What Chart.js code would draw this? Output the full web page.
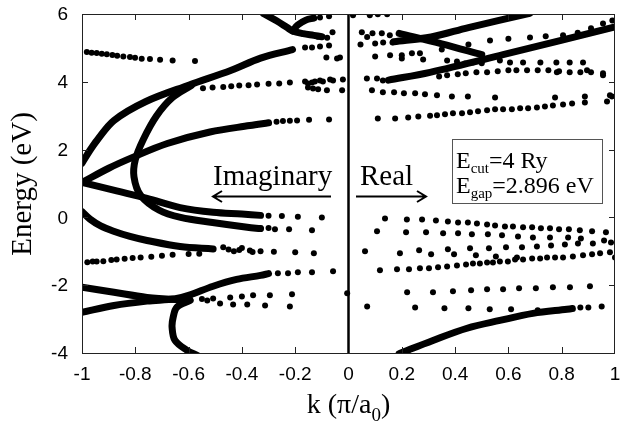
<!DOCTYPE html>
<html>
<head>
<meta charset="utf-8">
<script src="https://cdn.jsdelivr.net/npm/chart.js@4.4.1/dist/chart.umd.min.js"></script>
<style>
  html, body { margin: 0; padding: 0; background: #fff; }
  #wrap { width: 621px; height: 427px; position: relative; }
</style>
</head>
<body>
<div id="wrap"><canvas id="myChart"></canvas></div>
<script>
// ---- axes ----
const kTicks = [-1, -0.8, -0.6, -0.4, -0.2, 0, 0.2, 0.4, 0.6, 0.8, 1];
const eTicks = [-4, -2, 0, 2, 4, 6];

// ---- imaginary side (k < 0): thick continuous bands ----
const imagLineB = [[-1,1.6],[-0.97,1.98],[-0.944,2.27],[-0.88,2.86],[-0.76,3.42],[-0.6,3.9],[-0.44,4.34],[-0.33,4.7],[-0.21,4.95]];
const imagLineC = [[-0.59,3.89],[-0.66,3.54],[-0.72,3.0],[-0.77,2.3],[-0.8,1.7],[-0.805,1.2],[-0.78,0.65],[-0.71,0.21],[-0.63,0.0],[-0.51,-0.15],[-0.38,-0.29],[-0.33,-0.33]];
const imagLineD = [[-1,1.03],[-0.87,0.78],[-0.756,0.56],[-0.632,0.29],[-0.508,0.15],[-0.4,0.1],[-0.33,0.06]];
const imagLineE = [[-1,1.03],[-0.9,1.45],[-0.81,1.77],[-0.68,2.18],[-0.52,2.52],[-0.37,2.71],[-0.3,2.79]];
const imagLineF = [[-1,0.17],[-0.97,-0.05],[-0.93,-0.25],[-0.884,-0.4],[-0.82,-0.56],[-0.756,-0.68],[-0.632,-0.86],[-0.508,-0.93]];
const imagLineH1 = [[-1,-2.06],[-0.88,-2.21],[-0.756,-2.36],[-0.65,-2.42],[-0.6,-2.42]];
const imagLineH2 = [[-1,-2.8],[-0.88,-2.6],[-0.756,-2.47],[-0.65,-2.4],[-0.6,-2.3],[-0.508,-2.03],[-0.42,-1.83],[-0.33,-1.71],[-0.3,-1.66]];
const imagLineJ = [[-0.594,-2.45],[-0.644,-2.65],[-0.658,-2.95],[-0.662,-3.24],[-0.651,-3.63],[-0.606,-3.92],[-0.568,-4.07]];
const imagLineTop = [[-0.32,6.02],[-0.27,5.8],[-0.23,5.6],[-0.21,5.5],[-0.17,5.42],[-0.13,5.37],[-0.1,5.33]];
const imagLineTopFork = [[-0.21,5.5],[-0.19,5.68],[-0.16,5.82],[-0.13,5.88]];

// ---- imaginary side: dotted bands ----
const imagDotsA = [[-0.982,4.88],[-0.964,4.86],[-0.945,4.85],[-0.926,4.83],[-0.907,4.81],[-0.886,4.79],[-0.868,4.77],[-0.845,4.75],[-0.82,4.73],[-0.801,4.71],[-0.776,4.68],[-0.745,4.67],[-0.707,4.65],[-0.66,4.63],[-0.576,4.61]];
const imagDotsB = [[-0.163,5.01],[-0.137,5.01],[-0.107,5.04],[-0.073,5.07],[-0.083,4.72],[-0.043,4.69],[-0.032,4.72]];
const imagDotsTop = [[-0.107,5.9],[-0.073,5.93],[-0.06,5.46],[-0.08,5.3],[-0.115,5.33]];
const imagDots38 = [[-0.546,3.81],[-0.51,3.83],[-0.47,3.85],[-0.44,3.87],[-0.41,3.89],[-0.375,3.9],[-0.343,3.92],[-0.3,3.94],[-0.26,3.95],[-0.22,3.98],
  [-0.163,4.01],[-0.152,3.95],[-0.137,3.98],[-0.126,4.01],[-0.107,4.04],[-0.096,4.01],[-0.069,4.07],[-0.058,4.04],[-0.021,4.07],
  [-0.152,3.83],[-0.133,3.8],[-0.114,3.78],[-0.081,3.75],[-0.024,3.75]];
const imagDotsE = [[-0.27,2.82],[-0.246,2.84],[-0.22,2.85],[-0.193,2.86],[-0.148,2.88],[-0.073,2.89]];
const imagDotsD = [[-0.3,0.05],[-0.25,0.04],[-0.19,0.02],[-0.1,0.0]];
const imagDotsC = [[-0.3,-0.31],[-0.276,-0.35],[-0.223,-0.35],[-0.137,-0.38]];
const imagDotsF = [[-0.47,-0.88],[-0.45,-0.95],[-0.43,-1.0],[-0.41,-0.96],[-0.4,-0.9],[-0.37,-0.98],[-0.36,-1.02],[-0.33,-1.0],[-0.28,-1.01],[-0.2,-1.03],[-0.13,-1.06]];
const imagDotsG = [[-0.98,-1.32],[-0.96,-1.3],[-0.945,-1.3],[-0.92,-1.29],[-0.89,-1.26],[-0.87,-1.24],[-0.84,-1.22],[-0.81,-1.2],[-0.78,-1.18],[-0.74,-1.16],[-0.7,-1.13],[-0.66,-1.1],[-0.6,-1.08],[-0.56,-1.07]];
const imagDotsH2 = [[-0.265,-1.65],[-0.227,-1.65],[-0.19,-1.62],[-0.137,-1.62],[-0.058,-1.59]];
const imagDotsI1 = [[-0.594,-2.42],[-0.55,-2.41],[-0.508,-2.39],[-0.444,-2.36],[-0.4,-2.33],[-0.358,-2.3],[-0.295,-2.3],[-0.212,-2.27]];
const imagDotsI2 = [[-0.53,-2.45],[-0.482,-2.54],[-0.433,-2.57],[-0.38,-2.57],[-0.313,-2.6],[-0.22,-2.63]];
const zeroDots = [[-0.005,-2.24]];

// ---- real side (k > 0): thick bands ----
const realLineK = [[0.19,-4.02],[0.317,-3.63],[0.445,-3.27],[0.568,-3.04],[0.692,-2.83],[0.82,-2.71],[0.84,-2.69]];
const realLineU1 = [[0.17,5.18],[0.31,5.32],[0.45,5.6],[0.68,6.02]];
const realLineU2 = [[0.19,5.43],[0.35,5.12],[0.5,4.8]];
const realLineU3 = [[0.15,4.05],[0.306,4.28],[0.58,4.8],[1.0,5.62]];

// ---- real side: dotted bands ----
const realDotsK = [[0.87,-2.66],[0.9,-2.66],[0.95,-2.63]];
const realDotsR1 = [[0.07,-2.63],[0.25,-2.66],[0.36,-2.68],[0.45,-2.68],[0.53,-2.71],[0.61,-2.71],[0.71,-2.74]];
const realDotsR2 = [[0.22,-2.21],[0.317,-2.21],[0.392,-2.18],[0.46,-2.15],[0.52,-2.12],[0.58,-2.12],[0.64,-2.09],[0.703,-2.09],[0.767,-2.06],[0.831,-2.06],[0.906,-2.03]];
const realDotsR3 = [[0.118,-1.56],[0.182,-1.53],[0.227,-1.53],[0.268,-1.5],[0.302,-1.5],[0.336,-1.47],[0.37,-1.45],[0.407,-1.42],[0.441,-1.39],[0.467,-1.36],[0.493,-1.36],[0.52,-1.33],[0.542,-1.33],[0.568,-1.3],[0.598,-1.3],[0.625,-1.24],[0.655,-1.24],[0.689,-1.21],[0.719,-1.21],[0.745,-1.18],[0.775,-1.18],[0.805,-1.18],[0.842,-1.15],[0.88,-1.12],[0.914,-1.09],[0.944,-1.06],[0.981,-1.03],[1.0,-1.18]];
const realDotsR4 = [[0.062,-1.0],[0.193,-1.06],[0.265,-0.97],[0.31,-1.09],[0.373,-0.94],[0.396,-1.09],[0.456,-0.91],[0.478,-1.12],[0.527,-0.91],[0.553,-1.15],[0.591,-0.88],[0.632,-1.18],[0.651,-0.88],[0.707,-0.86],[0.76,-0.83],[0.812,-0.8],[0.861,-0.77],[0.917,-0.77],[0.985,-0.74]];
const realDotsR5 = [[0.107,-0.41],[0.216,-0.44],[0.291,-0.44],[0.355,-0.47],[0.411,-0.47],[0.463,-0.5],[0.523,-0.5],[0.576,-0.53],[0.636,-0.56],[0.692,-0.59],[0.756,-0.59],[0.824,-0.59],[0.872,-0.62],[0.959,-0.68]];
const realDotsR6 = [[0.137,-0.03],[0.219,-0.06],[0.276,-0.06],[0.328,-0.09],[0.373,-0.12],[0.411,-0.15],[0.448,-0.15],[0.482,-0.18],[0.52,-0.21],[0.55,-0.24],[0.587,-0.27],[0.617,-0.27],[0.655,-0.29],[0.689,-0.29],[0.722,-0.32],[0.756,-0.32],[0.79,-0.35],[0.827,-0.35],[0.868,-0.38],[0.914,-0.41],[0.966,-0.44]];
const realDotsTop = [[0.017,5.96],[0.08,5.96],[0.11,5.99],[0.145,5.99],[0.05,5.46],[0.07,5.32],[0.09,5.43],[0.125,5.43],[0.155,5.37],[0.045,5.1],[0.1,5.13],[0.13,5.16],[0.165,5.16]];
const realDotsU2 = [[0.568,4.63],[0.606,4.57],[0.655,4.57],[0.72,4.57],[0.78,4.57],[0.83,4.57],[0.88,4.57],[0.782,4.28],[0.895,4.34],[0.955,4.25]];
const realDotsU4 = [[0.35,4.95],[0.45,5.1],[0.531,5.22],[0.6,5.27],[0.681,5.31],[0.74,5.34],[0.805,5.37],[0.86,5.45],[0.91,5.58],[0.955,5.72],[0.99,5.81]];
const realDotsU5 = [[0.1,4.75],[0.156,4.78],[0.2,4.78],[0.2,4.69],[0.238,4.84],[0.268,4.84],[0.28,4.66],[0.37,4.63],[0.407,4.6],[0.437,4.54],[0.467,4.57],[0.5,4.55]];
const realDotsU6 = [[0.069,4.1],[0.107,4.1],[0.129,4.04],[0.34,4.16],[0.37,4.19],[0.41,4.22],[0.44,4.25],[0.48,4.28],[0.52,4.28],[0.56,4.31],[0.6,4.34],[0.63,4.34],[0.67,4.34],[0.71,4.34],[0.75,4.34],[0.79,4.31],[0.83,4.28],[0.87,4.28],[0.91,4.28],[0.955,4.19]];
const realDotsU7 = [[0.088,3.75],[0.129,3.69],[0.171,3.69],[0.208,3.66],[0.25,3.66],[0.287,3.63],[0.332,3.6],[0.388,3.57],[0.448,3.57],[0.55,3.54],[0.775,3.54],[0.887,3.57],[0.981,3.6]];
const realDotsU8 = [[0.11,2.92],[0.175,2.92],[0.224,2.95],[0.262,2.98],[0.306,3.0],[0.332,3.01],[0.362,3.04],[0.392,3.07],[0.426,3.07],[0.456,3.1],[0.486,3.13],[0.52,3.16],[0.55,3.19],[0.58,3.19],[0.613,3.19],[0.644,3.22],[0.674,3.22],[0.707,3.24],[0.737,3.27],[0.767,3.3],[0.805,3.33],[0.839,3.36],[0.887,3.39],[0.97,3.42],[0.989,3.57]];

const zeroLine = [[0,-4],[0,6]];

const thickBands = [imagLineB, imagLineC, imagLineD, imagLineE, imagLineF, imagLineH1, imagLineH2, imagLineJ, imagLineTop, imagLineTopFork,
  realLineK, realLineU1, realLineU2, realLineU3];
const dotBands = [imagDotsA, imagDotsB, imagDotsTop, imagDots38, imagDotsE, imagDotsD, imagDotsC, imagDotsF, imagDotsG, imagDotsH2, imagDotsI1, imagDotsI2, zeroDots,
  realDotsK, realDotsR1, realDotsR2, realDotsR3, realDotsR4, realDotsR5, realDotsR6, realDotsTop, realDotsU2, realDotsU4, realDotsU5, realDotsU6, realDotsU7, realDotsU8];

const toXY = arr => arr.map(p => ({x: p[0], y: p[1]}));

let datasets = [];
datasets.push({
  data: toXY(zeroLine), showLine: true, borderColor: '#000', borderWidth: 2.5, pointRadius: 0
});
for (let band of thickBands) {
  datasets.push({
    data: toXY(band), showLine: true, borderColor: '#000', borderWidth: 7,
    tension: 0.35, pointRadius: 0, borderCapStyle: 'round', borderJoinStyle: 'round'
  });
}
for (let band of dotBands) {
  datasets.push({
    data: toXY(band), showLine: false, pointRadius: 3, backgroundColor: '#000', borderWidth: 0
  });
}

const serif = "'Liberation Serif', 'Times New Roman', serif";
const sans = "'Liberation Sans', Arial, sans-serif";

// frame, inward ticks, tick labels, titles and annotations
const decor = {
  id: 'decor',
  afterDraw(chart) {
    const ctx = chart.ctx;
    const a = chart.chartArea;
    const xs = chart.scales.x, ys = chart.scales.y;
    ctx.save();
    ctx.strokeStyle = '#222';
    ctx.lineWidth = 1;
    ctx.strokeRect(a.left + 0.5, a.top + 0.5, a.right - a.left - 1, a.bottom - a.top);
    ctx.beginPath();
    for (let t of kTicks) {
      if (t === -1 || t === 1 || t === 0) continue;
      const px = Math.round(xs.getPixelForValue(t)) + 0.5;
      ctx.moveTo(px, a.bottom); ctx.lineTo(px, a.bottom - 6);
      ctx.moveTo(px, a.top); ctx.lineTo(px, a.top + 6);
    }
    for (let t of eTicks) {
      if (t === -4 || t === 6) continue;
      const py = Math.round(ys.getPixelForValue(t)) + 0.5;
      ctx.moveTo(a.left, py); ctx.lineTo(a.left + 6, py);
      ctx.moveTo(a.right, py); ctx.lineTo(a.right - 6, py);
    }
    ctx.stroke();

    // tick labels
    ctx.fillStyle = '#000';
    ctx.font = "19px " + sans;
    ctx.textBaseline = 'middle';
    ctx.textAlign = 'center';
    for (let t of kTicks) {
      ctx.fillText(String(t), xs.getPixelForValue(t), a.bottom + 22);
    }
    ctx.textAlign = 'right';
    for (let t of eTicks) {
      ctx.fillText(String(t), a.left - 14, ys.getPixelForValue(t) + 1);
    }

    // y title
    ctx.save();
    ctx.translate(31, 184);
    ctx.rotate(-Math.PI / 2);
    ctx.font = "29px " + serif;
    ctx.textAlign = 'center';
    ctx.textBaseline = 'alphabetic';
    ctx.fillText('Energy (eV)', 0, 0);
    ctx.restore();

    // x title with subscript
    ctx.textBaseline = 'alphabetic';
    ctx.textAlign = 'left';
    const p1 = 'k (\u03c0/a', p3 = ')';
    ctx.font = "28px " + serif; const w1 = ctx.measureText(p1).width, w3 = ctx.measureText(p3).width;
    ctx.font = "19px " + serif; const w2 = ctx.measureText('0').width;
    let x0 = (a.left + a.right) / 2 - (w1 + w2 + w3) / 2;
    ctx.font = "28px " + serif; ctx.fillText(p1, x0, 413);
    ctx.font = "19px " + serif; ctx.fillText('0', x0 + w1, 421);
    ctx.font = "28px " + serif; ctx.fillText(p3, x0 + w1 + w2, 413);

    // Imaginary / Real labels with arrows
    ctx.font = "29px " + serif;
    ctx.fillText('Imaginary', 213, 185);
    ctx.fillText('Real', 360, 185);
    ctx.lineWidth = 2;
    ctx.strokeStyle = '#000';
    ctx.beginPath();
    ctx.moveTo(331, 196.5); ctx.lineTo(214, 196.5);
    ctx.moveTo(222, 191); ctx.lineTo(213, 196.5); ctx.lineTo(222, 202);
    ctx.moveTo(356, 196.5); ctx.lineTo(425, 196.5);
    ctx.moveTo(417, 191); ctx.lineTo(426, 196.5); ctx.lineTo(417, 202);
    ctx.stroke();

    // info box
    ctx.fillStyle = '#fff';
    ctx.fillRect(452, 139, 150, 64);
    ctx.strokeStyle = '#555';
    ctx.lineWidth = 1;
    ctx.strokeRect(452.5, 139.5, 150, 64);
    ctx.fillStyle = '#000';
    const line = (main, sub, rest, y) => {
      let x = 456;
      ctx.font = "24px " + serif; ctx.fillText(main, x, y); x += ctx.measureText(main).width;
      ctx.font = "15px " + serif; ctx.fillText(sub, x, y + 5); x += ctx.measureText(sub).width;
      ctx.font = "24px " + serif; ctx.fillText(rest, x, y);
    };
    line('E', 'cut', '=4 Ry', 168);
    line('E', 'gap', '=2.896 eV', 193);
    ctx.restore();
  }
};

const myChart = new Chart(document.getElementById('myChart'), {
  type: 'scatter',
  data: { datasets: datasets },
  options: {
    responsive: true,
    maintainAspectRatio: false,
    animation: false,
    layout: { padding: { top: 14, right: 6, left: 0, bottom: 0 } },
    plugins: { legend: { display: false }, tooltip: { enabled: false } },
    scales: {
      x: {
        type: 'linear', min: -1, max: 1,
        afterBuildTicks: s => { s.ticks = kTicks.map(v => ({value: v})); },
        afterFit: s => { s.height = 74; },
        grid: { display: false, drawTicks: false },
        border: { display: false },
        ticks: { display: false }
      },
      y: {
        type: 'linear', min: -4, max: 6,
        afterBuildTicks: s => { s.ticks = eTicks.map(v => ({value: v})); },
        afterFit: s => { s.width = 82; },
        grid: { display: false, drawTicks: false },
        border: { display: false },
        ticks: { display: false }
      }
    }
  },
  plugins: [decor]
});
</script>
</body>
</html>
